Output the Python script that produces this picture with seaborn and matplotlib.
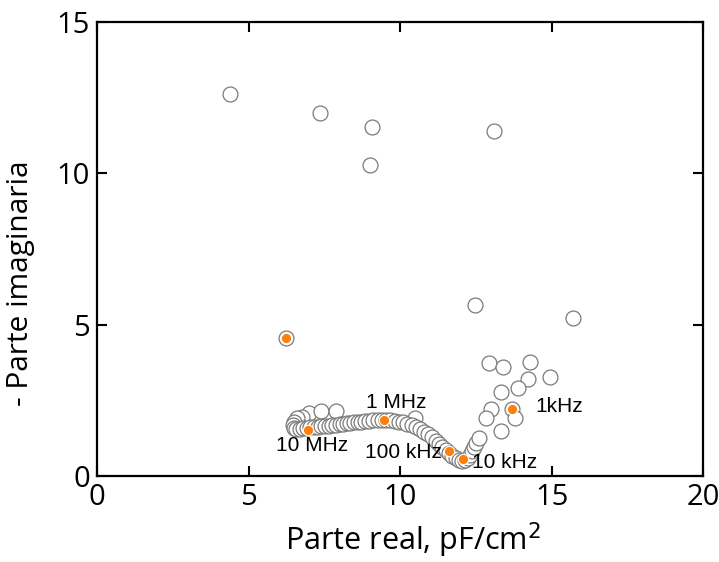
import matplotlib
matplotlib.use("Agg")
import matplotlib.pyplot as plt
import seaborn as sns
import pandas as pd

# open circles: scattered points
scatter_x = [4.38, 7.34, 9.08, 9.01, 13.09, 12.47, 15.69, 6.25,
             12.93, 13.39, 14.28, 14.21, 14.93, 13.88, 13.32, 12.99,
             13.68, 13.78, 12.83, 13.32,
             7.00, 7.40, 7.90, 10.48]
scatter_y = [12.62, 12.00, 11.53, 10.27, 11.40, 5.65, 5.22, 4.56,
             3.73, 3.60, 3.77, 3.20, 3.27, 2.91, 2.78, 2.21,
             2.21, 1.92, 1.92, 1.49,
             2.08, 2.15, 2.15, 1.91]

# open circles: dense arc
arc_x = [6.75, 6.60, 6.50, 6.45, 6.50, 6.58, 6.68, 6.80, 6.92, 7.04, 7.16,
         7.28, 7.40, 7.52, 7.64, 7.76, 7.88, 8.00, 8.12, 8.24, 8.36,
         8.48, 8.60, 8.72, 8.84, 8.98, 9.12, 9.26, 9.40, 9.54, 9.68,
         9.82, 9.96, 10.10, 10.24, 10.38, 10.52, 10.66, 10.80, 10.93,
         11.05, 11.17, 11.28, 11.39, 11.50, 11.61, 11.72, 11.83, 11.94,
         12.05, 12.15, 12.24, 12.31, 12.38, 12.45, 12.52, 12.60]
arc_y = [1.95, 1.90, 1.80, 1.68, 1.60, 1.56, 1.55, 1.57, 1.59, 1.61, 1.62,
         1.63, 1.64, 1.65, 1.66, 1.67, 1.69, 1.71, 1.72, 1.74, 1.76,
         1.77, 1.79, 1.80, 1.81, 1.83, 1.84, 1.85, 1.86, 1.86, 1.85,
         1.83, 1.80, 1.77, 1.73, 1.68, 1.62, 1.55, 1.47, 1.38,
         1.28, 1.17, 1.06, 0.95, 0.85, 0.76, 0.67, 0.60, 0.54,
         0.51, 0.52, 0.58, 0.68, 0.82, 0.96, 1.10, 1.26]

# orange highlighted frequencies
freq_labels = ["10 MHz", "1 MHz", "100 kHz", "10 kHz", "1kHz"]
freq_x = [6.96, 9.47, 11.61, 12.07, 13.68]
freq_y = [1.52, 1.85, 0.83, 0.56, 2.21]
extra_orange_x = [6.25]
extra_orange_y = [4.56]

label_x = [7.10, 9.87, 10.10, 13.45, 15.25]
label_y = [1.00, 2.44, 0.79, 0.44, 2.28]

xticks = [0, 5, 10, 15, 20]
yticks = [0, 5, 10, 15]

sns.set_theme(style="white")
plt.rcParams['font.family'] = ['Open Sans', 'DejaVu Sans']

fig = plt.figure(figsize=(7.19, 5.62), dpi=100)
ax = fig.add_axes([0.135, 0.153, 0.843, 0.808])

open_df = pd.DataFrame({"x": scatter_x + arc_x, "y": scatter_y + arc_y})
sns.scatterplot(data=open_df, x="x", y="y", ax=ax, s=115, color="white",
                edgecolor="#7a7a7a", linewidth=0.9, zorder=3, legend=False)

or_df = pd.DataFrame({"x": freq_x + extra_orange_x, "y": freq_y + extra_orange_y})
sns.scatterplot(data=or_df, x="x", y="y", ax=ax, s=55, color="#ff7f0e",
                edgecolor="white", linewidth=0.8, zorder=4, legend=False)

for t, lx, ly in zip(freq_labels, label_x, label_y):
    ax.text(lx, ly, t, ha="center", va="center", fontsize=15,
            family=['Liberation Sans', 'DejaVu Sans'], color="black", zorder=5)

ax.set_xlim(0, 20)
ax.set_ylim(0, 15)
ax.set_xticks(xticks)
ax.set_yticks(yticks)
ax.tick_params(direction="in", length=7, width=1.5, labelsize=21,
               top=True, right=True, bottom=True, left=True, colors="black",
               pad=5)
for sp in ax.spines.values():
    sp.set_color("black")
    sp.set_linewidth(1.6)
ax.set_xlabel("Parte real, pF/cm$^2$", fontsize=22, color="black")
ax.set_ylabel("- Parte imaginaria", fontsize=21.5, color="black")
ax.xaxis.set_label_coords(0.521, -0.098)
ax.yaxis.set_label_coords(-0.103, 0.425)

fig.savefig("out.png", dpi=100)
